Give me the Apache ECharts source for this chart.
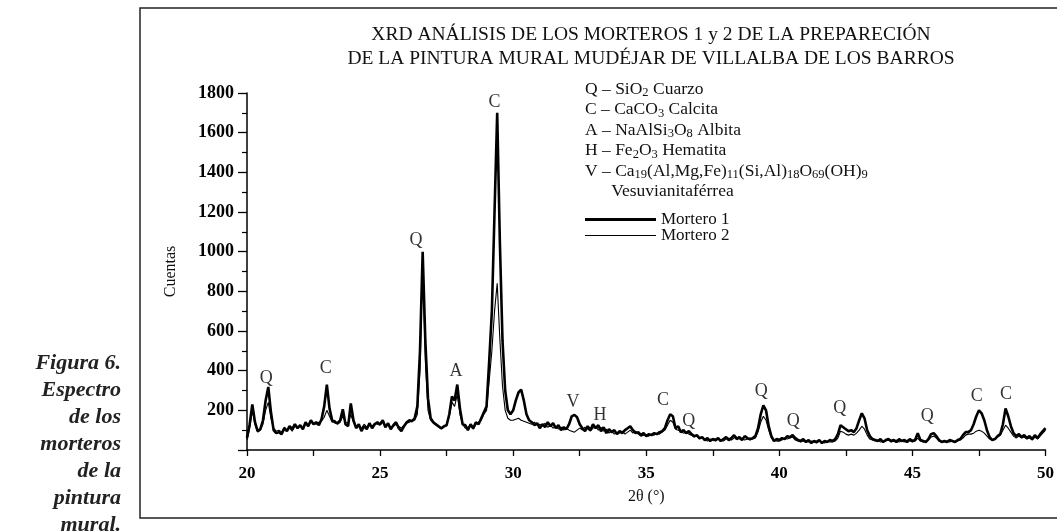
<!DOCTYPE html>
<html>
<head>
<meta charset="utf-8">
<script src="https://cdn.jsdelivr.net/npm/echarts@6/dist/echarts.min.js"></script>
<style>
  html, body { margin: 0; padding: 0; background: #fff; }
  #chart { width: 1057px; height: 531px; }
</style>
</head>
<body>
<div id="chart"></div>
<script>
// 2θ sampled every 0.1° from 20 to 50
var angleStart = 20, angleStep = 0.1;

// Mortero 1 (thick line), cuentas
var mortero1 = [
  60, 130, 230, 140, 95, 105, 150, 250, 318, 190,
  100, 85, 90, 80, 110, 95, 120, 105, 130, 110,
  125, 105, 140, 120, 150, 130, 140, 125, 155, 220,
  330, 210, 150, 140, 135, 150, 205, 130, 120, 235,
  150, 110, 130, 95, 120, 105, 135, 110, 130, 140,
  130, 150, 115, 135, 105, 125, 140, 110, 95, 120,
  140, 150, 145, 160, 220, 500, 1000, 550, 260, 160,
  140, 130, 120, 110, 120, 125, 180, 270, 250, 330,
  210, 130, 125, 100, 130, 110, 140, 130, 160, 190,
  220, 450, 700, 1200, 1700, 1050, 550, 300, 200, 180,
  200, 250, 290, 305, 250, 180, 150, 140, 125, 135,
  110, 130, 115, 140, 120, 135, 110, 125, 100, 115,
  105, 130, 170, 177, 165, 130, 110, 95, 120, 100,
  130, 110, 125, 95, 115, 85, 105, 90, 100, 80,
  95, 85, 100, 110, 120, 100, 85, 90, 75, 85,
  70, 80, 75, 85, 80, 90, 95, 110, 150, 180,
  170, 110, 120, 90, 100, 85, 95, 80, 70, 75,
  60, 65, 50, 60, 45, 55, 50, 60, 45, 55,
  65, 50, 60, 75, 55, 65, 50, 70, 60, 55,
  60, 70, 110, 180, 225, 200, 120, 70, 45, 55,
  50, 60, 55, 70, 65, 75, 60, 50, 45, 55,
  40, 50, 35, 45, 40, 50, 35, 45, 40, 50,
  45, 55, 80, 125, 115, 105, 95, 100, 90, 110,
  150, 185, 160, 100, 70, 55, 50, 45, 55, 40,
  50, 55, 45, 50, 40, 55, 45, 50, 40, 55,
  45, 50, 85, 50, 45, 40, 55, 80, 85, 70,
  50, 40, 45, 40, 50, 45, 40, 50, 55, 75,
  90, 90, 100, 130, 170, 200, 185, 150, 100, 65,
  50, 55, 70, 80, 130, 210, 170, 120, 85, 70,
  80, 65, 75, 60, 70, 55, 75, 60, 80, 95,
  110
];

// Mortero 2 (thin line)
var mortero2 = [
  50, 110, 200, 130, 90, 100, 130, 200, 240, 160,
  110, 95, 100, 90, 115, 100, 110, 95, 120, 115,
  120, 110, 130, 125, 140, 135, 130, 140, 145, 165,
  200, 170, 140, 150, 130, 140, 170, 140, 135, 180,
  140, 120, 125, 110, 130, 115, 125, 120, 135, 130,
  125, 140, 120, 130, 115, 120, 130, 120, 110, 125,
  135, 140, 150, 150, 180, 400, 950, 450, 200, 150,
  135, 125, 115, 105, 115, 130, 170, 240, 220, 280,
  180, 130, 110, 115, 120, 105, 130, 140, 150, 180,
  200, 350, 500, 700, 840, 560, 320, 200, 160, 150,
  150, 155, 160, 150, 145, 140, 135, 130, 140, 125,
  130, 120, 135, 115, 125, 110, 120, 105, 115, 100,
  110, 100, 95, 90, 100, 110, 100, 115, 105, 95,
  110, 120, 100, 115, 95, 105, 85, 95, 80, 90,
  85, 95, 80, 90, 100, 85, 95, 80, 70, 75,
  75, 70, 80, 75, 85, 80, 90, 100, 125, 150,
  140, 105, 100, 95, 85, 90, 80, 75, 65, 70,
  55, 60, 55, 45, 55, 50, 45, 55, 50, 45,
  55, 60, 50, 60, 65, 55, 60, 50, 55, 50,
  55, 60, 90, 140, 170, 150, 100, 60, 50, 45,
  45, 50, 60, 55, 60, 65, 50, 45, 40, 45,
  45, 40, 45, 40, 35, 45, 40, 35, 45, 40,
  40, 45, 60, 95, 90, 80, 75, 80, 75, 85,
  100, 120, 105, 75, 55, 50, 45, 50, 40, 45,
  45, 50, 40, 45, 50, 40, 45, 40, 50, 45,
  40, 45, 60, 45, 40, 45, 50, 65, 70, 60,
  45, 40, 40, 45, 40, 45, 40, 45, 50, 60,
  75, 80, 80, 85, 95, 100, 95, 85, 70, 55,
  50, 55, 65, 75, 100, 125, 110, 90, 70, 60,
  70, 60, 65, 55, 60, 50, 65, 55, 70, 85,
  100
];

// phase letters over the peaks: [2θ, cuentas, letra]
var peakLabels = [
  [20.72, 363, 'Q'], [22.96, 413, 'C'], [26.35, 1059, 'Q'], [27.85, 395, 'A'],
  [29.3, 1751, 'C'], [32.25, 243, 'V'], [33.26, 176, 'H'], [35.63, 252, 'C'],
  [36.6, 146, 'Q'], [39.32, 294, 'Q'], [40.52, 146, 'Q'], [42.27, 210, 'Q'],
  [45.56, 168, 'Q'], [47.42, 269, 'C'], [48.52, 281, 'C']
];

var yTicks = [0, 1800, 200];
var xTicks = [20, 50, 2.5];

var serif = '"Liberation Serif", "DejaVu Serif", serif';

var twoTheta = mortero1.map(function (v, i) { return +(angleStart + i * angleStep).toFixed(1); });
function pairs(vals) { return vals.map(function (v, i) { return [twoTheta[i], v]; }); }

var chart = echarts.init(document.getElementById('chart'));
chart.setOption({
  animation: false,
  backgroundColor: '#fff',
  title: [{
    text: 'XRD ANÁLISIS DE LOS MORTEROS 1 y 2 DE LA PREPARECIÓN\nDE LA PINTURA MURAL MUDÉJAR DE VILLALBA DE LOS BARROS',
    left: 646, top: 18, textAlign: 'center',
    textStyle: { fontFamily: serif, fontSize: 19.5, fontWeight: 'normal', color: '#111', lineHeight: 24 }
  }, {
    text: '{n|Q – SiO}{s|2}{n| Cuarzo}\n' +
          '{n|C – CaCO}{s|3}{n| Calcita}\n' +
          '{n|A – NaAlSi}{s|3}{n|O}{s|8}{n| Albita}\n' +
          '{n|H – Fe}{s|2}{n|O}{s|3}{n| Hematita}\n' +
          '{n|V – Ca}{s|19}{n|(Al,Mg,Fe)}{s|11}{n|(Si,Al)}{s|18}{n|O}{s|69}{n|(OH)}{s|9}\n' +
          '{n|      Vesuvianitaférrea}',
    left: 580, top: 74,
    textStyle: {
      fontWeight: 'normal',
      rich: {
        n: { fontFamily: serif, fontSize: 17.5, fontWeight: 'normal', color: '#111', lineHeight: 20.5, verticalAlign: 'middle' },
        s: { fontFamily: serif, fontSize: 12.5, fontWeight: 'normal', color: '#111', lineHeight: 20.5, verticalAlign: 'bottom' }
      }
    }
  }, {
    text: 'Figura 6.\nEspectro\nde los\nmorteros\nde la\npintura\nmural.',
    left: 116, top: 345, textAlign: 'right',
    textStyle: { fontFamily: serif, fontSize: 22, fontStyle: 'italic', fontWeight: 'bold', color: '#222', lineHeight: 27, align: 'right' }
  }],
  legend: [{
    data: [{ name: 'Mortero 1', icon: 'rect' }],
    left: 580, top: 206, itemWidth: 71, itemHeight: 3,
    textStyle: { fontFamily: serif, fontSize: 17, color: '#111' }
  }, {
    data: [{ name: 'Mortero 2', icon: 'rect' }],
    left: 580, top: 222, itemWidth: 71, itemHeight: 1.2,
    textStyle: { fontFamily: serif, fontSize: 17, color: '#111' }
  }],
  graphic: [{
    type: 'polyline',
    shape: { points: [[1060, 8], [140, 8], [140, 518], [1060, 518]] },
    style: { stroke: '#222', lineWidth: 1.5, fill: null }
  }],
  grid: { left: 247, right: 11, top: 93, bottom: 81 },
  xAxis: {
    type: 'value', min: xTicks[0], max: xTicks[1], interval: xTicks[2],
    name: '2θ (°)', nameLocation: 'middle', nameGap: 39,
    nameTextStyle: { fontFamily: serif, fontSize: 16, color: '#111' },
    axisLine: { lineStyle: { color: '#000', width: 1.5 } },
    axisTick: { inside: false, length: 6, lineStyle: { color: '#000', width: 1.3 } },
    axisLabel: {
      margin: 15, fontFamily: serif, fontSize: 17, fontWeight: 'bold', color: '#000',
      formatter: function (v) { return v % 5 === 0 ? String(v) : ''; }
    },
    splitLine: { show: false }
  },
  yAxis: {
    type: 'value', min: yTicks[0], max: yTicks[1], interval: yTicks[2],
    name: 'Cuentas', nameLocation: 'middle', nameGap: 68,
    nameTextStyle: { fontFamily: serif, fontSize: 16, color: '#111' },
    axisLine: { show: true, lineStyle: { color: '#000', width: 1.5 } },
    axisTick: { show: true, length: 9, lineStyle: { color: '#000', width: 1.3 } },
    minorTick: { show: true, splitNumber: 2, length: 5, lineStyle: { color: '#000', width: 1.2 } },
    axisLabel: {
      margin: 13, fontFamily: serif, fontSize: 18, fontWeight: 'bold', color: '#000', showMinLabel: false,
      formatter: function (v) { return String(v); }
    },
    splitLine: { show: false }
  },
  series: [{
    name: 'Mortero 1', type: 'line', data: pairs(mortero1),
    showSymbol: false, symbol: 'none', lineStyle: { color: '#000', width: 2.6 },
    itemStyle: { color: '#000' }, z: 2
  }, {
    name: 'Mortero 2', type: 'line', data: pairs(mortero2),
    showSymbol: false, symbol: 'none', lineStyle: { color: '#000', width: 1.1 },
    itemStyle: { color: '#000' }, z: 3
  }, {
    name: 'fases', type: 'scatter', data: peakLabels, symbolSize: 0, silent: true,
    label: {
      show: true, position: 'inside', fontFamily: serif, fontSize: 18, color: '#000',
      formatter: function (p) { return p.data[2]; }
    }, z: 4
  }]
});
</script>
</body>
</html>
